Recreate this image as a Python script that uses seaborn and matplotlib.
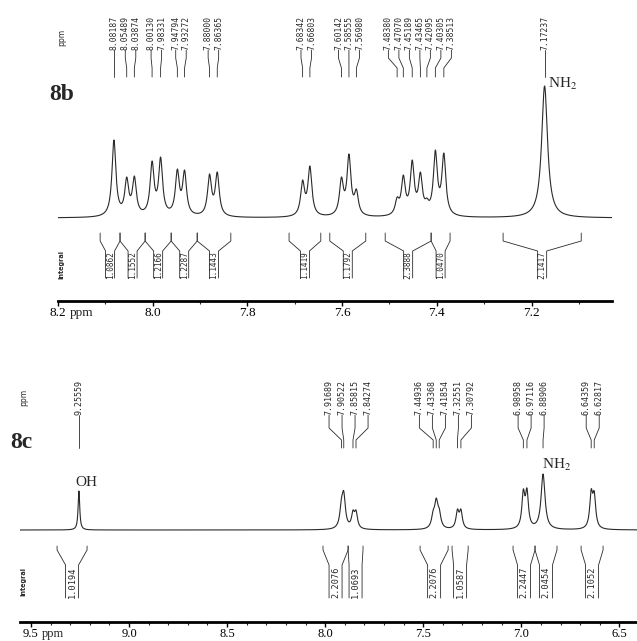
import numpy as np
import pandas as pd
import matplotlib
matplotlib.use("Agg")
import matplotlib.pyplot as plt
import seaborn as sns

sns.set_theme(style="white")
plt.rcParams['font.family'] = ['Liberation Serif', 'DejaVu Serif']
plt.rcParams['mathtext.fontset'] = 'stix'

# ---- 8b : peaks (ppm), apex heights, half widths ----
b_shifts = [8.08187, 8.05489, 8.03874, 8.00130, 7.98331, 7.94794, 7.93272, 7.88000, 7.86365,
            7.68342, 7.66803, 7.60142, 7.58555, 7.56980,
            7.48380, 7.47070, 7.45189, 7.43465, 7.42095, 7.40305, 7.38513, 7.17237]
b_heights = [78, 41, 42, 57, 61, 49, 48, 44, 46,
             38, 52, 41, 64, 29,
             21, 43, 58, 46, 20, 68, 65, 132]
b_widths = [0.005] * 21 + [0.0075]
b_labels = ["8.08187", "8.05489", "8.03874", "8.00130", "7.98331", "7.94794", "7.93272", "7.88000",
            "7.86365", "7.68342", "7.66803", "7.60142", "7.58555", "7.56980", "7.48380", "7.47070",
            "7.45189", "7.43465", "7.42095", "7.40305", "7.38513", "7.17237"]
b_int_left = [8.111, 8.069, 8.016, 7.961, 7.906, 7.712, 7.626, 7.509, 7.412, 7.260]
b_int_right = [8.069, 8.016, 7.961, 7.906, 7.835, 7.645, 7.550, 7.412, 7.372, 7.095]
b_int_values = ["1.0862", "1.1552", "1.2166", "1.2287", "1.1443", "1.1419", "1.1792", "2.3888", "1.0470", "2.1417"]
b_ticks = [8.2, 8.0, 7.8, 7.6, 7.4, 7.2]
b_ticklabels = ["8.2", "8.0", "7.8", "7.6", "7.4", "7.2"]
b_minor = [8.1, 7.9, 7.7, 7.5, 7.3, 7.1]

# ---- 8c ----
c_shifts = [9.25559, 7.91689, 7.90522, 7.85815, 7.84274, 7.44936, 7.43368, 7.41854,
            7.32551, 7.30792, 6.98958, 6.97116, 6.88906, 6.64359, 6.62817]
c_heights = [39, 32, 39, 20, 20, 20, 32, 22, 21, 21, 41, 42, 56, 41, 39]
c_widths = [0.005, 0.010, 0.010, 0.009, 0.009, 0.010, 0.010, 0.010,
            0.009, 0.009, 0.009, 0.009, 0.012, 0.009, 0.009]
c_labels = ["9.25559", "7.91689", "7.90522", "7.85815", "7.84274", "7.44936", "7.43368", "7.41854",
            "7.32551", "7.30792", "6.98958", "6.97116", "6.88906", "6.64359", "6.62817"]
c_int_left = [9.367, 8.011, 7.883, 7.516, 7.353, 7.042, 6.930, 6.695]
c_int_right = [9.214, 7.883, 7.807, 7.373, 7.271, 6.930, 6.818, 6.583]
c_int_values = ["1.0194", "2.2076", "1.0693", "2.2076", "1.0587", "2.2447", "2.0454", "2.1052"]
c_ticks = [9.5, 9.0, 8.5, 8.0, 7.5, 7.0, 6.5]
c_ticklabels = ["9.5", "9.0", "8.5", "8.0", "7.5", "7.0", "6.5"]
c_minor = [9.4, 9.3, 9.2, 9.1, 8.9, 8.8, 8.7, 8.6, 8.4, 8.3, 8.2, 8.1, 7.9, 7.8, 7.7, 7.6,
           7.4, 7.3, 7.2, 7.1, 6.9, 6.8, 6.7, 6.6]

W, H = 637, 641
LINE = "#2a2a2a"


def lorentz(x, x0, g):
    return 1.0 / (1.0 + ((x - x0) / g) ** 2)


def spectrum(grid, shifts, heights, widths):
    s = np.array(shifts)
    h = np.array(heights, dtype=float)
    w = np.array(widths)
    M = lorentz(s[:, None], s[None, :], w[None, :])
    amps = h.copy()
    for _ in range(300):
        for i in range(len(s)):
            other = M[i] @ amps - amps[i]
            amps[i] = max(h[i] - other, 0.15 * h[i])
    return (amps[None, :] * lorentz(grid[:, None], s[None, :], w[None, :])).sum(axis=1)


def spread(shifts, gap):
    clusters = [[p] for p in shifts]
    while True:
        placed = []
        for c in clusters:
            m = np.mean(c)
            n = len(c)
            placed.append([m + gap * ((n - 1) / 2 - i) for i in range(n)])
        merged = False
        for k in range(len(clusters) - 1):
            if placed[k][-1] - placed[k + 1][0] < gap:
                clusters[k] = clusters[k] + clusters[k + 1]
                del clusters[k + 1]
                merged = True
                break
        if not merged:
            return [p for c in placed for p in c]


def draw_panel(ax, bottom_px, xlim, base_px, shifts, heights, widths, labels, gap,
               lab_y, label_size, int_left, int_right, int_values, int_y, box_half, int_size):
    Y = lambda py: bottom_px - py
    grid = np.linspace(xlim[0], xlim[1], 4000)
    df = pd.DataFrame({"ppm": grid,
                       "intensity": Y(base_px) + spectrum(grid, shifts, heights, widths)})
    sns.lineplot(data=df, x="ppm", y="intensity", ax=ax, color=LINE, linewidth=0.8,
                 estimator=None, sort=False)
    ax.set_xlim(*xlim)
    ax.set_ylim(0, bottom_px)

    # peak labels with connectors
    lx = spread(shifts, gap)
    for xl, xp, lab in zip(lx, shifts, labels):
        ax.text(xl, Y(lab_y[0]), lab, rotation=90, ha="center", va="bottom",
                family="DejaVu Sans Mono", fontsize=label_size, color=LINE)
        ax.plot([xl, xl, xp, xp], [Y(lab_y[0]), Y(lab_y[1]), Y(lab_y[2]), Y(lab_y[3])],
                color=LINE, lw=0.6, clip_on=False)

    # integrals
    for l, r, v in zip(int_left, int_right, int_values):
        c = (l + r) / 2
        for edge, inner in ((l, c + box_half), (r, c - box_half)):
            ax.plot([edge, edge, inner, inner],
                    [Y(int_y[0]), Y(int_y[1]), Y(int_y[2]), Y(int_y[3])],
                    color=LINE, lw=0.6, clip_on=False)
        ax.text(c, Y((int_y[2] + int_y[3]) / 2 + 1), v, rotation=90, ha="center", va="center",
                family="DejaVu Sans Mono", fontsize=int_size, color=LINE)

    for s in ["top", "left", "right"]:
        ax.spines[s].set_visible(False)
    ax.spines["bottom"].set_linewidth(2.0)
    ax.spines["bottom"].set_color("black")
    ax.set_yticks([])
    ax.set_xlabel("")
    ax.set_ylabel("")
    ax.tick_params(axis="x", which="major", direction="out", length=3.5, width=1,
                   pad=1.0, labelsize=9.5, colors="black", bottom=True)
    ax.tick_params(axis="x", which="minor", direction="out", length=2.5, width=0.8, bottom=True)


fig = plt.figure(figsize=(W / 100, H / 100), dpi=100)

# ---- top panel (8b) ----
ax1 = fig.add_axes([58 / W, 1 - 301 / H, (612 - 58) / W, 301 / H])
draw_panel(ax1, 301, (8.2, 7.03), 218, b_shifts, b_heights, b_widths, b_labels, 10.5 / 473.5,
           (50, 58, 68, 77), 5.8, b_int_left, b_int_right, b_int_values,
           (233, 241, 251, 278), 4.5 / 473.5, 5.6)
ax1.set_xticks(b_ticks)
ax1.set_xticklabels(b_ticklabels)
ax1.set_xticks(b_minor, minor=True)
ax1.annotate("ppm", xy=(8.2, 0), xycoords=("data", "axes fraction"), xytext=(8.5, -4.5),
             textcoords="offset points", ha="left", va="top", fontsize=9.5)
ax1.text(7.166, 301 - 84, r"NH$_2$", ha="left", va="center", fontsize=11)

# ---- bottom panel (8c) ----
ax2 = fig.add_axes([20 / W, 1 - 622 / H, 617 / W, 292 / H])
draw_panel(ax2, 292, (9.556, 6.41), 530 - 330, c_shifts, c_heights, c_widths, c_labels, 13 / 196.1,
           (415 - 330, 428 - 330, 440 - 330, 448 - 330), 6.0, c_int_left, c_int_right, c_int_values,
           (546 - 330, 550 - 330, 565 - 330, 598 - 330), 6.5 / 196.1, 6.2)
ax2.set_xticks(c_ticks)
ax2.set_xticklabels(c_ticklabels)
ax2.set_xticks(c_minor, minor=True)
ax2.tick_params(axis="x", which="major", labelsize=9, pad=0.5)
ax2.annotate("ppm", xy=(9.5, 0), xycoords=("data", "axes fraction"), xytext=(8, -4),
             textcoords="offset points", ha="left", va="top", fontsize=9)
ax2.text(9.276, 292 - (482 - 330), "OH", ha="left", va="center", fontsize=11)
ax2.text(6.894, 292 - (465 - 330), r"NH$_2$", ha="left", va="center", fontsize=11)

# panel names and side captions
fig.text(49 / W, 1 - 94 / H, "8b", fontsize=17, fontweight="bold", ha="left", va="center")
fig.text(10 / W, 1 - 443 / H, "8c", fontsize=17, fontweight="bold", ha="left", va="center")
for px, py in ((62, 37), (24, 397)):
    fig.text(px / W, 1 - py / H, "ppm", rotation=90, ha="center", va="center",
             family="DejaVu Sans", fontsize=5.5, color=LINE)
for px, py in ((61, 265), (23, 582)):
    fig.text(px / W, 1 - py / H, "Integral", rotation=90, ha="center", va="center",
             family="DejaVu Sans", fontsize=4.7, fontweight="bold", color=LINE)

fig.savefig("out.png", dpi=100, facecolor="white")
